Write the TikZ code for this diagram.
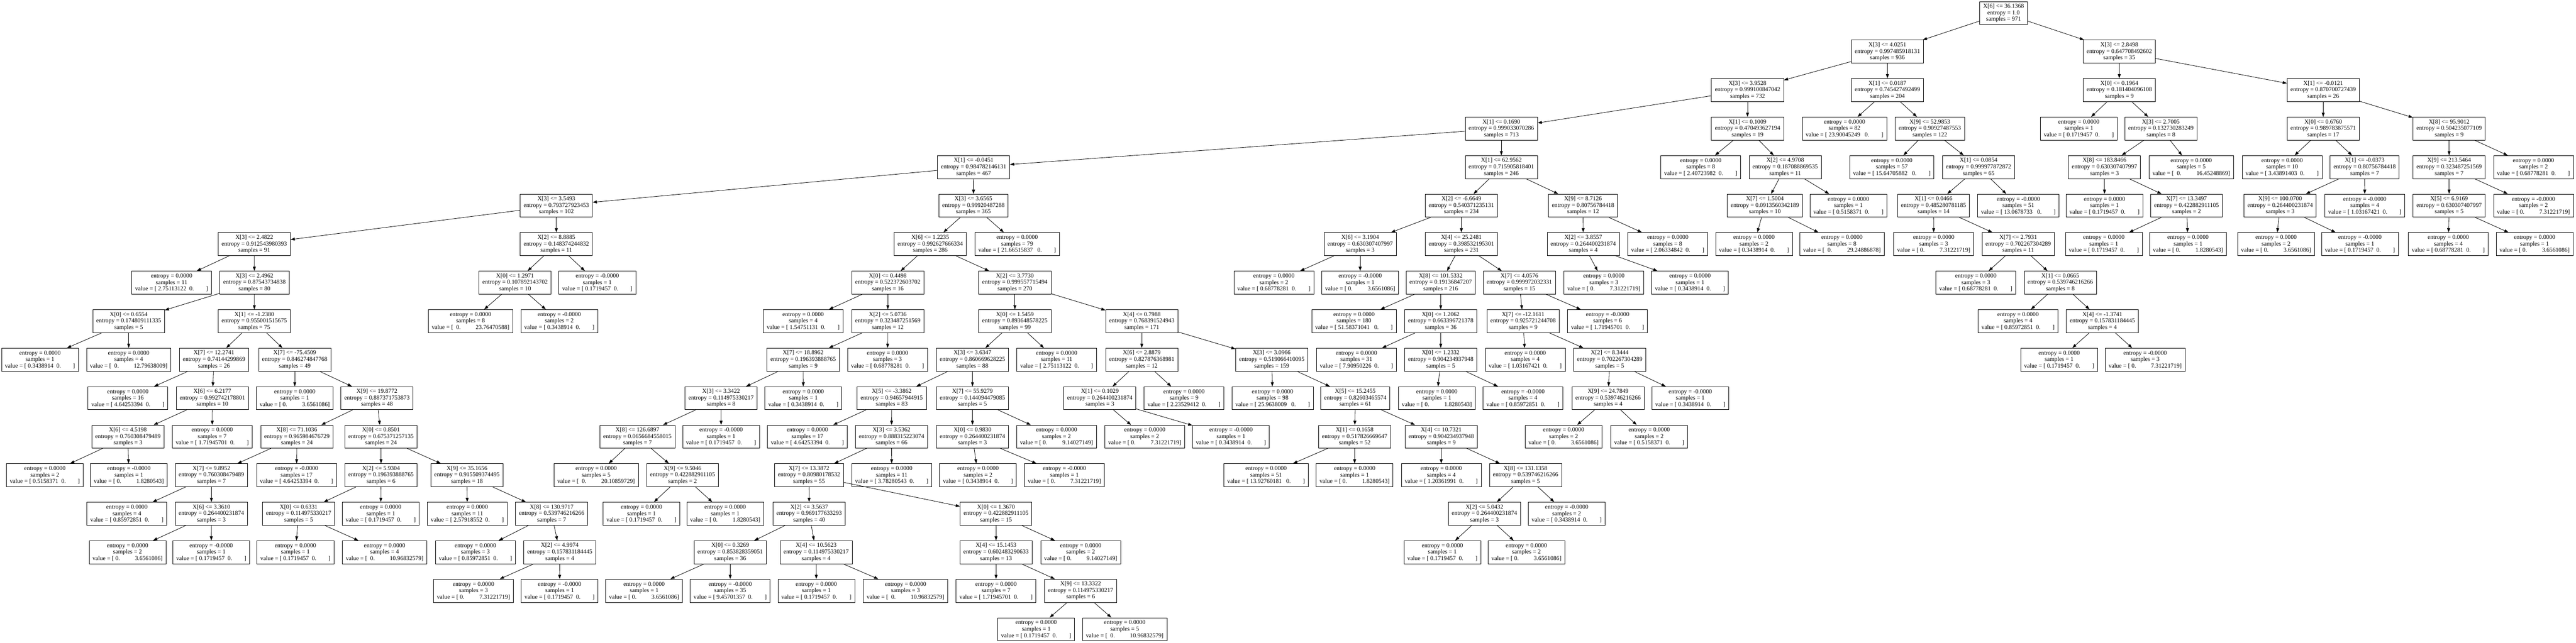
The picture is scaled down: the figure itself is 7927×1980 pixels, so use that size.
\documentclass[tikz,border=0pt]{standalone}
\usepackage{fontspec}
\setmainfont{Liberation Serif}
\usetikzlibrary{arrows.meta}
\newcommand\intx[3]{#1\\entropy = #2\\samples = #3}
\newcommand\lftx[3]{entropy = #1\\samples = #2\\value = #3}
\newcommand\vala[1]{[ #1\hspace{0.5em}0.\hspace{2em}]}
\newcommand\valb[1]{[ 0.\hspace{2.5em}#1]}
\newcommand\valc[1]{[\hspace{0.5em}0.\hspace{2.5em}#1]}
\newcommand\vald[1]{[ #1\hspace{0.75em}0.\hspace{2em}]}
\newcommand\tnode[4]{\node[tbox] (#1) at (#2,{-40.3-118.6*#3}) {#4};}
\begin{document}
\begin{tikzpicture}[x=1pt,y=1pt,
  tbox/.style={draw, line width=1.3pt, rectangle, align=center, inner xsep=10.5pt, inner ysep=2pt, minimum height=71pt, font=\fontsize{18.5}{19.9}\selectfont},
  conn/.style={line width=1.3pt, -{Triangle[length=13pt,width=9pt]}}]
\fill[white] (0,0) rectangle (7927,-1980);
\useasboundingbox (0,0) rectangle (7927,-1980);
% level 0
\tnode{root}{6165.5}{0}{\intx{X[6] <= 36.1368}{1.0}{971}}
% level 1
\tnode{a}{5808}{1}{\intx{X[3] <= 4.0251}{0.997485918131}{936}}
\tnode{b}{6521.5}{1}{\intx{X[3] <= 2.8498}{0.647708492602}{35}}
% level 2
\tnode{a1}{5377.5}{2}{\intx{X[3] <= 3.9528}{0.999100847042}{732}}
\tnode{a2}{5808}{2}{\intx{X[1] <= 0.0187}{0.745427492499}{204}}
\tnode{b1}{6521.5}{2}{\intx{X[0] <= 0.1964}{0.181404096108}{9}}
\tnode{b2}{7149}{2}{\intx{X[1] <= -0.0121}{0.870700727439}{26}}
% level 3
\tnode{c1}{4620}{3}{\intx{X[1] <= 0.1690}{0.999033070286}{713}}
\tnode{c2}{5377.5}{3}{\intx{X[1] <= 0.1009}{0.470493627194}{19}}
\tnode{c3}{5676}{3}{\lftx{0.0000}{82}{\vald{23.90045249}}}
\tnode{c4}{5938.5}{3}{\intx{X[9] <= 52.9853}{0.90927487553}{122}}
\tnode{c5}{6397}{3}{\lftx{0.0000}{1}{\vala{0.1719457}}}
\tnode{c6}{6649.5}{3}{\intx{X[3] <= 2.7005}{0.132730283249}{8}}
\tnode{c7}{7149}{3}{\intx{X[0] <= 0.6760}{0.989783875571}{17}}
\tnode{c8}{7536.5}{3}{\intx{X[8] <= 95.9012}{0.504235077109}{9}}
% level 4
\tnode{d1}{2996}{4}{\intx{X[1] <= -0.0451}{0.984782146131}{467}}
\tnode{d2}{4620}{4}{\intx{X[1] <= 62.9562}{0.715905818401}{246}}
\tnode{d3}{5233.5}{4}{\lftx{0.0000}{8}{\vala{2.40723982}}}
\tnode{d4}{5493.5}{4}{\intx{X[2] <= 4.9708}{0.187088869535}{11}}
\tnode{d5}{5821.5}{4}{\lftx{0.0000}{57}{\vald{15.64705882}}}
\tnode{d6}{6088.5}{4}{\intx{X[1] <= 0.0854}{0.999977872872}{65}}
\tnode{d7}{6476}{4}{\intx{X[8] <= 183.8466}{0.630307407997}{3}}
\tnode{d8}{6743}{4}{\lftx{0.0000}{5}{\valc{16.45248869}}}
\tnode{d9}{7022.5}{4}{\lftx{0.0000}{10}{\vala{3.43891403}}}
\tnode{d10}{7276.5}{4}{\intx{X[1] <= -0.0373}{0.80756784418}{7}}
\tnode{d11}{7536.5}{4}{\intx{X[9] <= 213.5464}{0.323487251569}{7}}
\tnode{d12}{7796}{4}{\lftx{0.0000}{2}{\vala{0.68778281}}}
% level 5
\tnode{e1}{1712}{5}{\intx{X[3] <= 3.5493}{0.793727923453}{102}}
\tnode{e2}{2995.5}{5}{\intx{X[3] <= 3.6565}{0.99920487288}{365}}
\tnode{e3}{4497}{5}{\intx{X[2] <= -6.6649}{0.540371235131}{234}}
\tnode{e4}{4871.5}{5}{\intx{X[9] <= 8.7126}{0.80756784418}{12}}
\tnode{e5}{5431}{5}{\intx{X[7] <= 1.5004}{0.0913560342189}{10}}
\tnode{e6}{5688}{5}{\lftx{0.0000}{1}{\vala{0.5158371}}}
\tnode{e7}{5950}{5}{\intx{X[1] <= 0.0466}{0.485280781185}{14}}
\tnode{e8}{6211}{5}{\lftx{-0.0000}{51}{\vald{13.0678733}}}
\tnode{e9}{6476}{5}{\lftx{0.0000}{1}{\vala{0.1719457}}}
\tnode{e10}{6728.5}{5}{\intx{X[7] <= 13.3497}{0.422882911105}{2}}
\tnode{e11}{7016.5}{5}{\intx{X[9] <= 100.0700}{0.264400231874}{3}}
\tnode{e12}{7277}{5}{\lftx{-0.0000}{4}{\vala{1.03167421}}}
\tnode{e13}{7536.5}{5}{\intx{X[5] <= 6.9169}{0.630307407997}{5}}
\tnode{e14}{7796}{5}{\lftx{-0.0000}{2}{\valb{7.31221719}}}
% level 6
\tnode{f1}{782.5}{6}{\intx{X[3] <= 2.4822}{0.912543980393}{91}}
\tnode{f2}{1712}{6}{\intx{X[2] <= 8.8885}{0.148374244832}{11}}
\tnode{f3}{2862.5}{6}{\intx{X[6] <= 1.2235}{0.992627666334}{286}}
\tnode{f4}{3130}{6}{\lftx{0.0000}{79}{\vald{21.66515837}}}
\tnode{f5}{4185.5}{6}{\intx{X[6] <= 3.1904}{0.630307407997}{3}}
\tnode{f6}{4497}{6}{\intx{X[4] <= 25.2481}{0.398532195301}{231}}
\tnode{f7}{4872}{6}{\intx{X[2] <= 3.8557}{0.264400231874}{4}}
\tnode{f8}{5132}{6}{\lftx{0.0000}{8}{\vala{2.06334842}}}
\tnode{f9}{5397.5}{6}{\lftx{0.0000}{2}{\vala{0.3438914}}}
\tnode{f10}{5668}{6}{\lftx{0.0000}{8}{\valc{29.24886878}}}
\tnode{f11}{5950.5}{6}{\lftx{0.0000}{3}{\valb{7.31221719}}}
\tnode{f12}{6210.5}{6}{\intx{X[7] <= 2.7931}{0.702267304289}{11}}
\tnode{f13}{6474}{6}{\lftx{0.0000}{1}{\vala{0.1719457}}}
\tnode{f14}{6733}{6}{\lftx{0.0000}{1}{\valb{1.8280543}}}
\tnode{f15}{7004}{6}{\lftx{0.0000}{2}{\valb{3.6561086}}}
\tnode{f16}{7262}{6}{\lftx{-0.0000}{1}{\vala{0.1719457}}}
\tnode{f17}{7534}{6}{\lftx{0.0000}{4}{\vala{0.68778281}}}
\tnode{f18}{7799.5}{6}{\lftx{0.0000}{1}{\valb{3.6561086}}}
% level 7
\tnode{g1}{528}{7}{\lftx{0.0000}{11}{\vala{2.75113122}}}
\tnode{g2}{783}{7}{\intx{X[3] <= 2.4962}{0.87543734838}{80}}
\tnode{g3}{1585}{7}{\intx{X[0] <= 1.2971}{0.107892143702}{10}}
\tnode{g4}{1838}{7}{\lftx{-0.0000}{1}{\vala{0.1719457}}}
\tnode{g5}{2732}{7}{\intx{X[0] <= 0.4498}{0.522372603702}{16}}
\tnode{g6}{3123}{7}{\intx{X[2] <= 3.7730}{0.999557715494}{270}}
\tnode{g7}{3920}{7}{\lftx{0.0000}{2}{\vala{0.68778281}}}
\tnode{g8}{4185.5}{7}{\lftx{-0.0000}{1}{\valb{3.6561086}}}
\tnode{g9}{4433.5}{7}{\intx{X[8] <= 101.5332}{0.19136847207}{216}}
\tnode{g10}{4675.5}{7}{\intx{X[7] <= 4.0576}{0.999972032331}{15}}
\tnode{g11}{4935.5}{7}{\lftx{0.0000}{3}{\valb{7.31221719}}}
\tnode{g12}{5200.5}{7}{\lftx{0.0000}{1}{\vala{0.3438914}}}
\tnode{g13}{6080}{7}{\lftx{0.0000}{3}{\vala{0.68778281}}}
\tnode{g14}{6340}{7}{\intx{X[1] <= 0.0665}{0.539746216266}{8}}
% level 8
\tnode{h1}{396}{8}{\intx{X[0] <= 0.6554}{0.174809111335}{5}}
\tnode{h2}{782.5}{8}{\intx{X[1] <= -1.2380}{0.955001515675}{75}}
\tnode{h3}{1448}{8}{\lftx{0.0000}{8}{\valc{23.76470588}}}
\tnode{h4}{1721}{8}{\lftx{-0.0000}{2}{\vala{0.3438914}}}
\tnode{h5}{2471.5}{8}{\lftx{0.0000}{4}{\vala{1.54751131}}}
\tnode{h6}{2732}{8}{\intx{X[2] <= 5.0736}{0.323487251569}{12}}
\tnode{h7}{3123}{8}{\intx{X[0] <= 1.5459}{0.893648578225}{99}}
\tnode{h8}{3513.5}{8}{\intx{X[4] <= 0.7988}{0.768391524943}{171}}
\tnode{h9}{4166.5}{8}{\lftx{0.0000}{180}{\vald{51.58371041}}}
\tnode{h10}{4433.5}{8}{\intx{X[0] <= 1.2062}{0.663396721378}{36}}
\tnode{h11}{4687}{8}{\intx{X[7] <= -12.1611}{0.925721244708}{9}}
\tnode{h12}{4947}{8}{\lftx{-0.0000}{6}{\vala{1.71945701}}}
\tnode{h13}{6210}{8}{\lftx{0.0000}{4}{\vala{0.85972851}}}
\tnode{h14}{6469.5}{8}{\intx{X[4] <= -1.3741}{0.157831184445}{4}}
% level 9
\tnode{i1}{123}{9}{\lftx{0.0000}{1}{\vala{0.3438914}}}
\tnode{i2}{396}{9}{\lftx{0.0000}{4}{\valc{12.79638009}}}
\tnode{i3}{658.5}{9}{\intx{X[7] <= 12.2741}{0.74144299869}{26}}
\tnode{i4}{907}{9}{\intx{X[7] <= -75.4509}{0.846274847768}{49}}
\tnode{i5}{2471.5}{9}{\intx{X[7] <= 18.8962}{0.196393888765}{9}}
\tnode{i6}{2731}{9}{\lftx{0.0000}{3}{\vala{0.68778281}}}
\tnode{i7}{2992.5}{9}{\intx{X[3] <= 3.6347}{0.860669628225}{88}}
\tnode{i8}{3251.5}{9}{\lftx{0.0000}{11}{\vala{2.75113122}}}
\tnode{i9}{3513.5}{9}{\intx{X[6] <= 2.8879}{0.827876368981}{12}}
\tnode{i10}{3913.5}{9}{\intx{X[3] <= 3.0966}{0.519066410095}{159}}
\tnode{i11}{4174}{9}{\lftx{0.0000}{31}{\vala{7.90950226}}}
\tnode{i12}{4433.5}{9}{\intx{X[0] <= 1.2332}{0.904234937948}{5}}
\tnode{i13}{4693.5}{9}{\lftx{0.0000}{4}{\vala{1.03167421}}}
\tnode{i14}{4953.5}{9}{\intx{X[2] <= 8.3444}{0.702267304289}{5}}
\tnode{i15}{6336.5}{9}{\lftx{0.0000}{1}{\vala{0.1719457}}}
\tnode{i16}{6601}{9}{\lftx{-0.0000}{3}{\valb{7.31221719}}}
% level 10
\tnode{j1}{393.5}{10}{\lftx{0.0000}{16}{\vala{4.64253394}}}
\tnode{j2}{653.5}{10}{\intx{X[6] <= 6.2177}{0.992742178801}{10}}
\tnode{j3}{907}{10}{\lftx{0.0000}{1}{\valb{3.6561086}}}
\tnode{j4}{1160}{10}{\intx{X[9] <= 19.8772}{0.887371753873}{48}}
\tnode{j5}{2219}{10}{\intx{X[3] <= 3.3422}{0.114975330217}{8}}
\tnode{j6}{2472}{10}{\lftx{0.0000}{1}{\vala{0.3438914}}}
\tnode{j7}{2744}{10}{\intx{X[5] <= -3.3862}{0.94657944915}{83}}
\tnode{j8}{2992.5}{10}{\intx{X[7] <= 55.9279}{0.144094479085}{5}}
\tnode{j9}{3384.5}{10}{\intx{X[1] <= 0.1029}{0.264400231874}{3}}
\tnode{j10}{3643.5}{10}{\lftx{0.0000}{9}{\vala{2.23529412}}}
\tnode{j11}{3916}{10}{\lftx{0.0000}{98}{\vald{25.9638009}}}
\tnode{j12}{4170.5}{10}{\intx{X[5] <= 15.2455}{0.82603465574}{61}}
\tnode{j13}{4421.5}{10}{\lftx{0.0000}{1}{\valb{1.8280543}}}
\tnode{j14}{4686.5}{10}{\lftx{-0.0000}{4}{\vala{0.85972851}}}
\tnode{j15}{4948.5}{10}{\intx{X[9] <= 24.7849}{0.539746216266}{4}}
\tnode{j16}{5201.5}{10}{\lftx{-0.0000}{1}{\vala{0.3438914}}}
% level 11
\tnode{k1}{393.5}{11}{\intx{X[6] <= 4.5198}{0.760308479489}{3}}
\tnode{k2}{653}{11}{\lftx{0.0000}{7}{\vala{1.71945701}}}
\tnode{k3}{913.5}{11}{\intx{X[8] <= 71.1036}{0.965984676729}{24}}
\tnode{k4}{1172.5}{11}{\intx{X[0] <= 0.8501}{0.675371257135}{24}}
\tnode{k5}{1961.5}{11}{\intx{X[8] <= 126.6897}{0.0656684558015}{7}}
\tnode{k6}{2219}{11}{\lftx{-0.0000}{1}{\vala{0.1719457}}}
\tnode{k7}{2484.5}{11}{\lftx{0.0000}{17}{\vala{4.64253394}}}
\tnode{k8}{2743.5}{11}{\intx{X[3] <= 3.5362}{0.888315223074}{66}}
\tnode{k9}{2992.5}{11}{\intx{X[0] <= 0.9830}{0.264400231874}{3}}
\tnode{k10}{3251}{11}{\lftx{0.0000}{2}{\valb{9.14027149}}}
\tnode{k11}{3522.5}{11}{\lftx{0.0000}{2}{\valb{7.31221719}}}
\tnode{k12}{3788}{11}{\lftx{-0.0000}{1}{\vala{0.3438914}}}
\tnode{k13}{4168.5}{11}{\intx{X[1] <= 0.1658}{0.517826669647}{52}}
\tnode{k14}{4435}{11}{\intx{X[4] <= 10.7321}{0.904234937948}{9}}
\tnode{k15}{4811.5}{11}{\lftx{0.0000}{2}{\valb{3.6561086}}}
\tnode{k16}{5075}{11}{\lftx{0.0000}{2}{\vala{0.5158371}}}
% level 12
\tnode{l1}{138}{12}{\lftx{0.0000}{2}{\vala{0.5158371}}}
\tnode{l2}{396.5}{12}{\lftx{-0.0000}{1}{\valb{1.8280543}}}
\tnode{l3}{650.5}{12}{\intx{X[7] <= 9.8952}{0.760308479489}{7}}
\tnode{l4}{912.5}{12}{\lftx{-0.0000}{17}{\vala{4.64253394}}}
\tnode{l5}{1172.5}{12}{\intx{X[2] <= 5.9304}{0.196393888765}{6}}
\tnode{l6}{1437}{12}{\intx{X[9] <= 35.1656}{0.915509374495}{18}}
\tnode{l7}{1834.5}{12}{\lftx{0.0000}{5}{\valc{20.10859729}}}
\tnode{l8}{2100.5}{12}{\intx{X[9] <= 9.5046}{0.422882911105}{2}}
\tnode{l9}{2489.5}{12}{\intx{X[7] <= 13.3872}{0.80980178532}{55}}
\tnode{l10}{2744}{12}{\lftx{0.0000}{11}{\vala{3.78280543}}}
\tnode{l11}{3009.5}{12}{\lftx{0.0000}{2}{\vala{0.3438914}}}
\tnode{l12}{3275.5}{12}{\lftx{-0.0000}{1}{\valb{7.31221719}}}
\tnode{l13}{3896}{12}{\lftx{0.0000}{51}{\vald{13.92760181}}}
\tnode{l14}{4168.5}{12}{\lftx{0.0000}{1}{\valb{1.8280543}}}
\tnode{l15}{4435}{12}{\lftx{0.0000}{4}{\vala{1.20361991}}}
\tnode{l16}{4694.5}{12}{\intx{X[8] <= 131.1358}{0.539746216266}{5}}
% level 13
\tnode{m1}{390.5}{13}{\lftx{0.0000}{4}{\vala{0.85972851}}}
\tnode{m2}{650.5}{13}{\intx{X[6] <= 3.3610}{0.264400231874}{3}}
\tnode{m3}{919}{13}{\intx{X[0] <= 0.6331}{0.114975330217}{5}}
\tnode{m4}{1171.5}{13}{\lftx{0.0000}{1}{\vala{0.1719457}}}
\tnode{m5}{1438}{13}{\lftx{0.0000}{11}{\vala{2.57918552}}}
\tnode{m6}{1697.5}{13}{\intx{X[8] <= 130.9717}{0.539746216266}{7}}
\tnode{m7}{1974}{13}{\lftx{0.0000}{1}{\vala{0.1719457}}}
\tnode{m8}{2231.5}{13}{\lftx{0.0000}{1}{\valb{1.8280543}}}
\tnode{m9}{2490}{13}{\intx{X[2] <= 3.5637}{0.969177633293}{40}}
\tnode{m10}{3065}{13}{\intx{X[0] <= 1.3670}{0.422882911105}{15}}
\tnode{m11}{4568}{13}{\intx{X[2] <= 5.0432}{0.264400231874}{3}}
\tnode{m12}{4821}{13}{\lftx{-0.0000}{2}{\vala{0.3438914}}}
% level 14
\tnode{n1}{392.5}{14}{\lftx{0.0000}{2}{\valb{3.6561086}}}
\tnode{n2}{650}{14}{\lftx{-0.0000}{1}{\vala{0.1719457}}}
\tnode{n3}{909}{14}{\lftx{0.0000}{1}{\vala{0.1719457}}}
\tnode{n4}{1183.5}{14}{\lftx{0.0000}{4}{\valc{10.96832579}}}
\tnode{n5}{1463}{14}{\lftx{0.0000}{3}{\vala{0.85972851}}}
\tnode{n6}{1722.5}{14}{\intx{X[2] <= 4.9974}{0.157831184445}{4}}
\tnode{n7}{2247}{14}{\intx{X[0] <= 0.3269}{0.853828359051}{36}}
\tnode{n8}{2511.5}{14}{\intx{X[4] <= 10.5623}{0.114975330217}{4}}
\tnode{n9}{3065}{14}{\intx{X[4] <= 15.1453}{0.602483290633}{13}}
\tnode{n10}{3325.5}{14}{\lftx{0.0000}{2}{\valb{9.14027149}}}
\tnode{n11}{4438.5}{14}{\lftx{0.0000}{1}{\vala{0.1719457}}}
\tnode{n12}{4697}{14}{\lftx{0.0000}{2}{\valb{3.6561086}}}
% level 15
\tnode{o1}{1457}{15}{\lftx{0.0000}{3}{\valb{7.31221719}}}
\tnode{o2}{1722}{15}{\lftx{-0.0000}{1}{\vala{0.1719457}}}
\tnode{o3}{1982}{15}{\lftx{0.0000}{1}{\valb{3.6561086}}}
\tnode{o4}{2247}{15}{\lftx{-0.0000}{35}{\vala{9.45701357}}}
\tnode{o5}{2512}{15}{\lftx{0.0000}{1}{\vala{0.1719457}}}
\tnode{o6}{2786.5}{15}{\lftx{0.0000}{3}{\valc{10.96832579}}}
\tnode{o7}{3065}{15}{\lftx{0.0000}{7}{\vala{1.71945701}}}
\tnode{o8}{3325.5}{15}{\intx{X[9] <= 13.3322}{0.114975330217}{6}}
% level 16
\tnode{p1}{3188.5}{16}{\lftx{0.0000}{1}{\vala{0.1719457}}}
\tnode{p2}{3461}{16}{\lftx{0.0000}{5}{\valc{10.96832579}}}
% connectors
\foreach \p/\c in {root/a,root/b,a/a1,a/a2,b/b1,b/b2,
 a1/c1,a1/c2,a2/c3,a2/c4,b1/c5,b1/c6,b2/c7,b2/c8,
 c1/d1,c1/d2,c2/d3,c2/d4,c4/d5,c4/d6,c6/d7,c6/d8,c7/d9,c7/d10,c8/d11,c8/d12,
 d1/e1,d1/e2,d2/e3,d2/e4,d4/e5,d4/e6,d6/e7,d6/e8,d7/e9,d7/e10,d10/e11,d10/e12,d11/e13,d11/e14,
 e1/f1,e1/f2,e2/f3,e2/f4,e3/f5,e3/f6,e4/f7,e4/f8,e5/f9,e5/f10,e7/f11,e7/f12,e10/f13,e10/f14,e11/f15,e11/f16,e13/f17,e13/f18,
 f1/g1,f1/g2,f2/g3,f2/g4,f3/g5,f3/g6,f5/g7,f5/g8,f6/g9,f6/g10,f7/g11,f7/g12,f12/g13,f12/g14,
 g2/h1,g2/h2,g3/h3,g3/h4,g5/h5,g5/h6,g6/h7,g6/h8,g9/h9,g9/h10,g10/h11,g10/h12,g14/h13,g14/h14,
 h1/i1,h1/i2,h2/i3,h2/i4,h6/i5,h6/i6,h7/i7,h7/i8,h8/i9,h8/i10,h10/i11,h10/i12,h11/i13,h11/i14,h14/i15,h14/i16,
 i3/j1,i3/j2,i4/j3,i4/j4,i5/j5,i5/j6,i7/j7,i7/j8,i9/j9,i9/j10,i10/j11,i10/j12,i12/j13,i12/j14,i14/j15,i14/j16,
 j2/k1,j2/k2,j4/k3,j4/k4,j5/k5,j5/k6,j7/k7,j7/k8,j8/k9,j8/k10,j9/k11,j9/k12,j12/k13,j12/k14,j15/k15,j15/k16,
 k1/l1,k1/l2,k3/l3,k3/l4,k4/l5,k4/l6,k5/l7,k5/l8,k8/l9,k8/l10,k9/l11,k9/l12,k13/l13,k13/l14,k14/l15,k14/l16,
 l3/m1,l3/m2,l5/m3,l5/m4,l6/m5,l6/m6,l8/m7,l8/m8,l9/m9,l9/m10,l16/m11,l16/m12,
 m2/n1,m2/n2,m3/n3,m3/n4,m6/n5,m6/n6,m9/n7,m9/n8,m10/n9,m10/n10,m11/n11,m11/n12,
 n6/o1,n6/o2,n7/o3,n7/o4,n8/o5,n8/o6,n9/o7,n9/o8,
 o8/p1,o8/p2}
 \draw[conn] (\p) -- (\c);
\end{tikzpicture}
\end{document}
